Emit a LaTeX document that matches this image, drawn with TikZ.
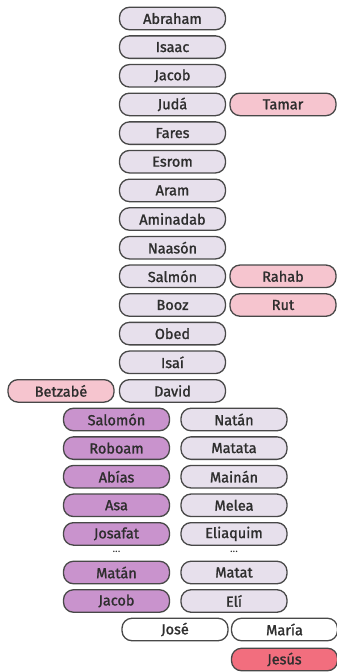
\documentclass[tikz,border=0pt]{standalone}
\usepackage{fontspec}
\setmainfont{Fira Sans}
\newfontfamily\boxfont[FakeBold=1.4]{Fira Sans}
\definecolor{lav}{HTML}{E7E0EC}
\definecolor{pinkc}{HTML}{F6C5CF}
\definecolor{purp}{HTML}{C993CD}
\definecolor{jes}{HTML}{F26E7E}
\definecolor{edge}{HTML}{484848}
\definecolor{txt}{HTML}{2E2E2E}
\begin{document}
\begin{tikzpicture}[x=1pt,y=-1pt,
  pbox/.style={draw=edge, line width=1.3pt, rounded corners=10pt, minimum width=106pt, minimum height=22.5pt, inner sep=0pt, font=\boxfont\fontsize{14.5}{15}\selectfont, text=txt},
  lavbox/.style={pbox, fill=lav},
  pinkbox/.style={pbox, fill=pinkc},
  purpbox/.style={pbox, fill=purp},
  whitebox/.style={pbox, fill=white},
  jesbox/.style={pbox, fill=jes},
  dots/.style={font=\fontsize{11}{12}\selectfont, inner sep=0pt, text=txt}]
\useasboundingbox (0,0) rectangle (337,672);
\def\cx{172.5}
\node[lavbox] (abraham) at (\cx,18.5) {Abraham};
\node[lavbox] (isaac) at (\cx,47.1) {Isaac};
\node[lavbox] (jacob) at (\cx,75.8) {Jacob};
\node[lavbox] (juda) at (\cx,104.4) {Judá};
\node[pinkbox] (tamar) at (283,104.4) {Tamar};
\node[lavbox] (fares) at (\cx,133.1) {Fares};
\node[lavbox] (esrom) at (\cx,161.7) {Esrom};
\node[lavbox] (aram) at (\cx,190.4) {Aram};
\node[lavbox] (aminadab) at (\cx,219.0) {Aminadab};
\node[lavbox] (naason) at (\cx,247.7) {Naasón};
\node[lavbox] (salmon) at (\cx,276.3) {Salmón};
\node[pinkbox] (rahab) at (283,276.3) {Rahab};
\node[lavbox] (booz) at (\cx,305.0) {Booz};
\node[pinkbox] (rut) at (283,305.0) {Rut};
\node[lavbox] (obed) at (\cx,333.6) {Obed};
\node[lavbox] (isai) at (\cx,362.3) {Isaí};
\node[lavbox] (david) at (\cx,390.9) {David};
\node[pinkbox] (betzabe) at (61,390.9) {Betzabé};
\node[purpbox] (salomon) at (116.5,419.5) {Salomón};
\node[purpbox] (roboam) at (116.5,448.1) {Roboam};
\node[purpbox] (abias) at (116.5,476.7) {Abías};
\node[purpbox] (asa) at (116.5,505.3) {Asa};
\node[purpbox] (josafat) at (116.5,533.9) {Josafat};
\node[dots] (dl) at (116.5,551.5) {...};
\node[purpbox] (matan) at (116.5,572.5) {Matán};
\node[purpbox] (jacobb) at (116.5,601.0) {Jacob};
\node[lavbox] (natan) at (234,419.5) {Natán};
\node[lavbox] (matata) at (234,448.1) {Matata};
\node[lavbox] (mainan) at (234,476.7) {Mainán};
\node[lavbox] (melea) at (234,505.3) {Melea};
\node[lavbox] (eliaquim) at (234,533.9) {Eliaquim};
\node[dots] (dr) at (234,551.5) {...};
\node[lavbox] (matat) at (234,572.5) {Matat};
\node[lavbox] (eli) at (234,601.0) {Elí};
\node[whitebox] (jose) at (175,629.5) {José};
\node[whitebox] (maria) at (284.5,629.5) {María};
\node[jesbox] (jesus) at (284.5,659.5) {Jesús};
\end{tikzpicture}
\end{document}
